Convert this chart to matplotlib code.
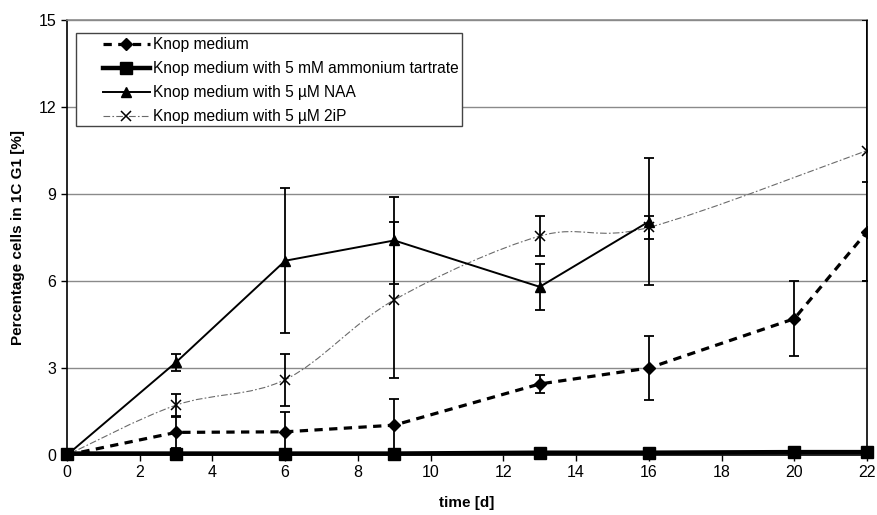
import matplotlib
matplotlib.use('Agg')
import matplotlib.pyplot as plt
from matplotlib.path import Path
from matplotlib.patches import PathPatch, Rectangle
from matplotlib.lines import Line2D
import numpy as np

plt.rcParams['font.family'] = ['Liberation Sans', 'DejaVu Sans']

# --- Data ---
days = [0, 3, 6, 9, 13, 16, 20, 22]
knop = [0, 0.78, 0.8, 1.03, 2.45, 3.0, 4.7, 7.7]
knop_err = [0, 0.55, 0.7, 0.9, 0.3, 1.1, 1.3, 1.7]

tartrate = [0.05, 0.05, 0.05, 0.05, 0.08, 0.08, 0.1, 0.1]

naa_days = [0, 3, 6, 9, 13, 16]
naa = [0, 3.2, 6.7, 7.4, 5.8, 8.05]
naa_err = [0, 0.3, 2.5, 1.5, 0.8, 2.2]

ip_days = [0, 3, 6, 9, 13, 16, 22]
ip = [0, 1.72, 2.6, 5.35, 7.55, 7.85, 10.5]
ip_err = [0, 0.4, 0.9, 2.7, 0.7, 0.4, 4.5]

labels = ['Knop medium',
          'Knop medium with 5 mM ammonium tartrate',
          'Knop medium with 5 \u00b5M NAA',
          'Knop medium with 5 \u00b5M 2iP']


def smooth_path(xs, ys):
    # Excel style smoothed line: cubic Bezier through the data points
    pts = np.column_stack([xs, ys]).astype(float)
    verts = [pts[0]]
    codes = [Path.MOVETO]
    n = len(pts)
    for i in range(n - 1):
        p0 = pts[max(i - 1, 0)]
        p1 = pts[i]
        p2 = pts[i + 1]
        p3 = pts[min(i + 2, n - 1)]
        c1 = p1 + (p2 - p0) / 6.0
        c2 = p2 - (p3 - p1) / 6.0
        verts += [c1, c2, p2]
        codes += [Path.CURVE4] * 3
    return Path(verts, codes)


fig = plt.figure(figsize=(8.77, 5.15), dpi=100)
ax = fig.add_axes([0.0764, 0.1165, 0.9122, 0.8445])

# grid
ax.set_axisbelow(True)
ax.yaxis.grid(True, color='#8a8a8a', linewidth=1.0)

# Knop medium - thick dashed
knop_style = dict(color='black', linewidth=2.3, linestyle=(0, (2.6, 2.0)))
ax.errorbar(days, knop, yerr=knop_err, fmt='none', ecolor='black',
            elinewidth=1.3, capsize=3.5, capthick=1.3, zorder=3)
ax.plot(days, knop, marker='D', markersize=6.5, zorder=4, **knop_style)

# 2iP - thin grey dash-dot smoothed
ip_style = dict(color='#6a6a6a', linewidth=0.8, linestyle=(0, (6, 2, 1.5, 2)))
ax.add_patch(PathPatch(smooth_path(ip_days, ip), fill=False, **ip_style))
ax.errorbar(ip_days, ip, yerr=ip_err, fmt='none', ecolor='black',
            elinewidth=1.3, capsize=3.5, capthick=1.3, zorder=3)
ax.plot(ip_days, ip, linestyle='none', marker='x', markersize=7.5,
        markeredgewidth=1.1, color='black', zorder=4)

# NAA - solid
ax.errorbar(naa_days, naa, yerr=naa_err, fmt='none', ecolor='black',
            elinewidth=1.3, capsize=3.5, capthick=1.3, zorder=3)
ax.plot(naa_days, naa, color='black', linewidth=1.4, marker='^',
        markersize=7.5, zorder=4)

# ammonium tartrate - thick solid
ax.plot(days, tartrate, color='black', linewidth=3.2, marker='s',
        markersize=8, zorder=5, clip_on=False)

ax.set_xlim(0, 22)
ax.set_ylim(0, 15)
ax.set_xticks(range(0, 23, 2))
ax.set_yticks(range(0, 16, 3))
ax.tick_params(labelsize=11.5, length=4, width=1, direction='out', color='black')

for s in ax.spines.values():
    s.set_color('black')
    s.set_linewidth(1.2)
ax.spines['top'].set_color('#8a8a8a')

ax.set_xlabel('time [d]', fontsize=11, fontweight='bold', labelpad=11)
ax.set_ylabel('Percentage cells in 1C G1 [%]', fontsize=11, fontweight='bold',
              labelpad=10)

# legend: frame drawn separately so the left padding matches the original
ax.add_patch(Rectangle((0.01125, 0.756), 0.4825, 0.214, transform=ax.transAxes,
                       facecolor='white', edgecolor='#444444', linewidth=1.0,
                       zorder=6))
handles = [
    Line2D([], [], marker='D', markersize=6.5, **knop_style),
    Line2D([], [], color='black', linewidth=3.2, marker='s', markersize=8),
    Line2D([], [], color='black', linewidth=1.4, marker='^', markersize=7.5),
    Line2D([], [], marker='x', markersize=7.5, markeredgewidth=1.1,
           markeredgecolor='black', **ip_style),
]
leg = ax.legend(handles, labels, loc='upper left', bbox_to_anchor=(0.045, 0.96),
                fontsize=11.2, frameon=False, handlelength=3.0, handletextpad=0.2,
                labelspacing=0.57, borderpad=0, borderaxespad=0)
leg.set_zorder(7)

plt.savefig('out.png', dpi=100)
